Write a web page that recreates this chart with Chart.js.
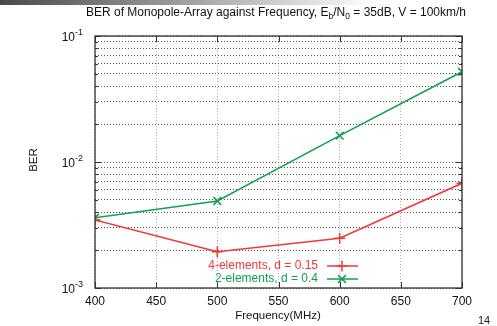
<!DOCTYPE html>
<html>
<head>
<meta charset="utf-8">
<script src="https://cdn.jsdelivr.net/npm/chart.js@4.4.1/dist/chart.umd.min.js"></script>
<style>
  html, body { margin: 0; padding: 0; background: #fff; }
  #wrap { position: relative; width: 497px; height: 326px; overflow: hidden; }
  #bar { position: absolute; left: 0; top: 0; width: 497px; height: 5px;
         background: linear-gradient(to right, #4a4a4a 0%, #9a9a9a 35%, #ffffff 75%); }
  #page { position: absolute; left: 478px; top: 314px; font: 11px "Liberation Sans", Arial, sans-serif; color: #222; }
</style>
</head>
<body>
<div id="wrap">
  <canvas id="chart" width="497" height="326"></canvas>
  <div id="bar"></div>
  <div id="page">14</div>
</div>
<script>
// --- DATA ---
const freqs = [400, 500, 600, 700];
const berFourElem = [3.47e-3, 1.94e-3, 2.48e-3, 6.78e-3];
const berTwoElem = [3.61e-3, 4.9e-3, 1.62e-2, 5.2e-2];
const seriesLabels = ['4-elements, d = 0.15', '2-elements, d = 0.4'];
const xTicks = [400, 450, 500, 550, 600, 650, 700];
const yDecades = [1e-3, 1e-2, 1e-1];
const yMinorSteps = [2, 3, 4, 5, 6, 7, 8, 9];

const RED = '#f03a3a';
const GREEN = '#12a050';
const FONT = '"Liberation Sans", Arial, sans-serif';

// major + minor log ticks
const yTicks = [];
yDecades.forEach((d, i) => {
    yTicks.push(d);
    if (i < yDecades.length - 1) yMinorSteps.forEach(m => yTicks.push(m * d));
});
const isMajor = v => Math.abs(Math.log10(v) - Math.round(Math.log10(v))) < 1e-6;

// --- PLUGIN: frame, ticks, labels, titles, legend ---
const decor = {
    id: 'decor',
    afterDraw(chart) {
        const { ctx, chartArea: a, scales } = chart;
        ctx.save();

        // inward tick marks (gnuplot style)
        ctx.strokeStyle = '#333';
        ctx.lineWidth = 1;
        ctx.beginPath();
        yTicks.forEach(v => {
            const y = Math.round(scales.y.getPixelForValue(v)) + 0.5;
            const len = isMajor(v) ? 6 : 3;
            ctx.moveTo(a.left, y); ctx.lineTo(a.left + len, y);
            ctx.moveTo(a.right, y); ctx.lineTo(a.right - len, y);
        });
        xTicks.forEach(v => {
            const x = Math.round(scales.x.getPixelForValue(v)) + 0.5;
            ctx.moveTo(x, a.bottom); ctx.lineTo(x, a.bottom - 6);
            ctx.moveTo(x, a.top); ctx.lineTo(x, a.top + 6);
        });
        ctx.stroke();

        // frame
        ctx.strokeStyle = '#333';
        ctx.lineWidth = 1.3;
        ctx.strokeRect(a.left, a.top, a.right - a.left, a.bottom - a.top);

        // y tick labels 10^n with raised exponent
        ctx.fillStyle = '#111';
        ctx.textBaseline = 'alphabetic';
        yDecades.forEach(d => {
            const y = scales.y.getPixelForValue(d);
            const exp = String(Math.round(Math.log10(d)));
            ctx.font = '9px ' + FONT;
            const ew = ctx.measureText(exp).width;
            ctx.textAlign = 'left';
            ctx.font = '12px ' + FONT;
            const bw = ctx.measureText('10').width;
            const right = 83;
            ctx.fillText('10', right - ew - bw, y + 5);
            ctx.font = '9px ' + FONT;
            ctx.fillText(exp, right - ew, y - 1);
        });

        // title with subscripts
        const big = '12px ' + FONT, small = '8.5px ' + FONT;
        const parts = [
            ['BER of Monopole-Array against Frequency, E', big, 0],
            ['b', small, 3],
            ['/N', big, 0],
            ['0', small, 3],
            [' = 35dB, V = 100km/h', big, 0]
        ];
        let total = 0;
        parts.forEach(p => { ctx.font = p[1]; total += ctx.measureText(p[0]).width; });
        let x = 276 - total / 2;
        ctx.fillStyle = '#111';
        ctx.textAlign = 'left';
        parts.forEach(p => {
            ctx.font = p[1];
            ctx.fillText(p[0], x, 16 + p[2]);
            x += ctx.measureText(p[0]).width;
        });

        // axis titles
        ctx.font = '11.5px ' + FONT;
        ctx.textAlign = 'center';
        ctx.textBaseline = 'middle';
        ctx.fillText('Frequency(MHz)', 278, 316);
        ctx.save();
        ctx.translate(34, 160);
        ctx.rotate(-Math.PI / 2);
        ctx.fillText('BER', 0, 0);
        ctx.restore();

        // legend inside plot, bottom right
        const rows = [266, 279];
        chart.data.datasets.forEach((ds, i) => {
            const y = rows[i];
            ctx.font = '12px ' + FONT;
            ctx.textAlign = 'right';
            ctx.fillStyle = ds.borderColor;
            ctx.fillText(ds.label, 318, y);
            ctx.strokeStyle = ds.borderColor;
            ctx.lineWidth = 1.5;
            ctx.beginPath();
            ctx.moveTo(327, y); ctx.lineTo(358, y);
            ctx.stroke();
            Chart.helpers.drawPoint(ctx, {
                pointStyle: ds.pointStyle, radius: ds.pointRadius, borderWidth: 1.5
            }, 342, y);
        });
        ctx.restore();
    }
};

new Chart(document.getElementById('chart'), {
    type: 'line',
    data: {
        datasets: [
            {
                label: seriesLabels[0],
                data: freqs.map((f, i) => ({ x: f, y: berFourElem[i] })),
                borderColor: RED, backgroundColor: RED,
                borderWidth: 1.6, pointStyle: 'cross', pointRadius: 5.5,
                pointBorderWidth: 1.6, tension: 0
            },
            {
                label: seriesLabels[1],
                data: freqs.map((f, i) => ({ x: f, y: berTwoElem[i] })),
                borderColor: GREEN, backgroundColor: GREEN,
                borderWidth: 1.6, pointStyle: 'crossRot', pointRadius: 5.5,
                pointBorderWidth: 1.6, tension: 0
            }
        ]
    },
    options: {
        responsive: false,
        animation: false,
        events: [],
        layout: { padding: { top: 36, right: 35, left: 0, bottom: 0 } },
        plugins: { legend: { display: false }, title: { display: false }, tooltip: { enabled: false } },
        scales: {
            x: {
                type: 'linear', min: 400, max: 700,
                afterBuildTicks: s => { s.ticks = xTicks.map(v => ({ value: v })); },
                afterFit: s => { s.height = 38; },
                grid: { color: '#b0b0b0', lineWidth: 1, drawTicks: false },
                border: { display: false, dash: [1, 2] },
                ticks: { color: '#111', font: { family: FONT, size: 12 }, padding: 6, autoSkip: false, maxRotation: 0 }
            },
            y: {
                type: 'logarithmic', min: 1e-3, max: 1e-1,
                afterBuildTicks: s => { s.ticks = yTicks.map(v => ({ value: v })); },
                afterFit: s => { s.width = 95; },
                grid: { color: '#555', lineWidth: 1, drawTicks: false },
                border: { display: false, dash: [1, 2] },
                ticks: { display: false }
            }
        }
    },
    plugins: [decor]
});
</script>
</body>
</html>
